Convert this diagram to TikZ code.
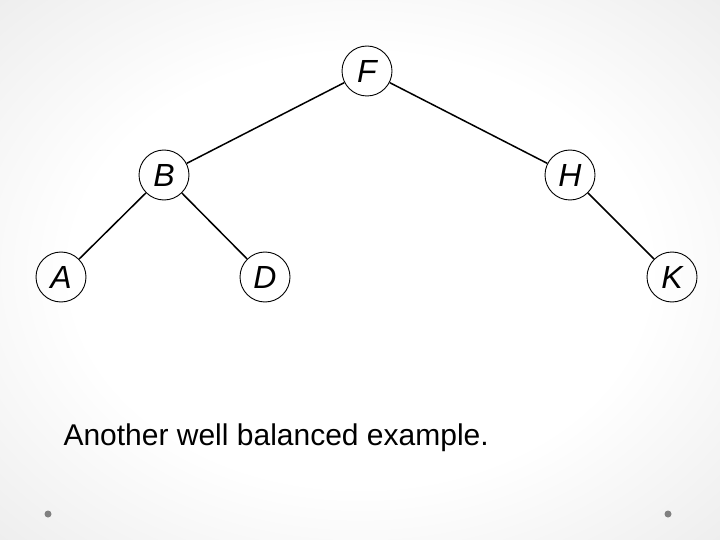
\documentclass[tikz,border=0pt]{standalone}
\usepackage{fontspec}
\setmainfont{Liberation Sans}
\usetikzlibrary{positioning}

\pgfdeclareradialshading{slidebg}{\pgfpoint{0bp}{0bp}}{color(0bp)=(white); color(20bp)=(white); color(50bp)=(black!13); color(75bp)=(black!19)}

\begin{document}
\begin{tikzpicture}[-, on grid, vertex/.style={circle, draw, line width=0.9pt, minimum size=50pt, inner sep=0pt, font=\fontsize{32}{32}\selectfont\itshape}, link/.style={line width=1.5pt}, dot/.style={circle, fill=black!50, minimum size=7pt, inner sep=0pt}]

\shade[shading=slidebg]	(0pt,0pt) rectangle (720pt,-540pt);
\useasboundingbox		(0pt,0pt) rectangle (720pt,-540pt);

\node[vertex]					(F) at (367pt,-71pt)					{F};
\node[vertex]					(B) [below left=104pt and 203pt of F]	{B};
\node[vertex]					(H) [below right=104pt and 203pt of F]	{H};
\node[vertex]					(A) [below left=102pt and 103pt of B]	{A};
\node[vertex]					(D) [below right=102pt and 101pt of B]	{D};
\node[vertex]					(K) [below right=102pt and 102pt of H]	{K};

\draw[link]	(F) -- (B);
\draw[link]	(F) -- (H);
\draw[link]	(B) -- (A);
\draw[link]	(B) -- (D);
\draw[link]	(H) -- (K);

\node[anchor=base west, font=\fontsize{30}{36}\selectfont]	(caption) at (60pt,-445pt)	{Another well balanced example.};

\node[dot]						(dotL) at (48pt,-514pt)					{};
\node[dot]						(dotR) at (668pt,-514pt)				{};

\end{tikzpicture}
\end{document}
